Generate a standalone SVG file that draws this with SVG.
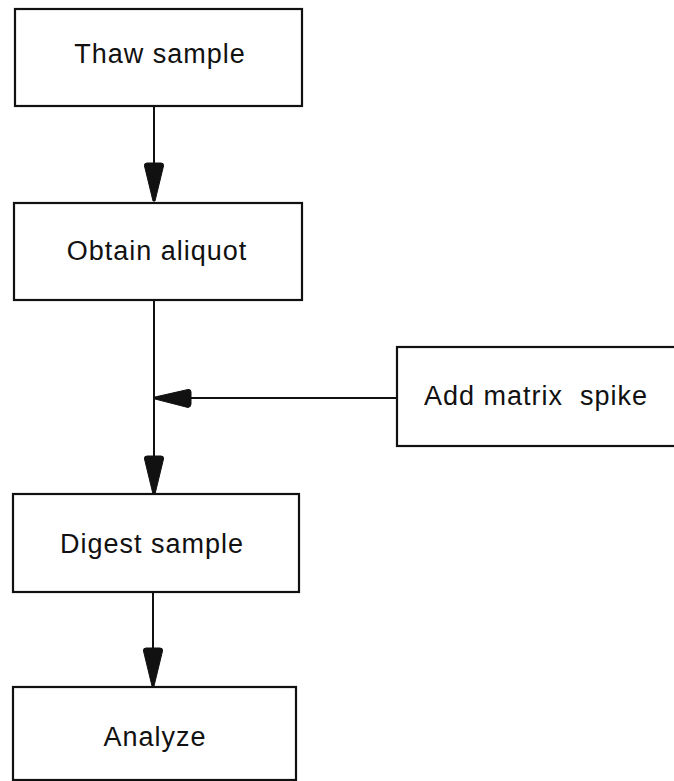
<svg xmlns="http://www.w3.org/2000/svg" width="674" height="781" viewBox="0 0 674 781">
  <defs>
    <style>
      .box { fill: #fff; stroke: #111; stroke-width: 2.2; }
      .lbl { font-family: "Liberation Sans", Arial, sans-serif; font-size: 27px; fill: #111; text-anchor: middle; letter-spacing: 1px; }
      .line { stroke: #111; stroke-width: 2; fill: none; }
      .head { fill: #111; stroke: #111; stroke-width: 1; stroke-linejoin: round; }
    </style>
  </defs>
  <rect width="674" height="781" fill="#fff"/>

  <g id="connectors">
    <line class="line" x1="154" y1="106" x2="154" y2="165"/>
    <path class="head" d="M144.5,166 Q144,163 147,163 L161,163 Q164,163 163.5,166 L155,201 L153,201 Z"/>

    <line class="line" x1="154" y1="300" x2="154" y2="458"/>
    <line class="line" x1="188" y1="398" x2="397" y2="398"/>
    <path class="head" d="M188,389.5 Q191,389 191,392 L191,404 Q191,407 188,407.5 L155,399 L155,397 Z"/>
    <path class="head" d="M144.5,459 Q144,456 147,456 L161,456 Q164,456 163.5,459 L155,494 L153,494 Z"/>

    <line class="line" x1="153" y1="592" x2="153" y2="650"/>
    <path class="head" d="M143.5,651 Q143,648 146,648 L160,648 Q163,648 162.5,651 L154,686 L152,686 Z"/>
  </g>

  <g id="thaw">
    <rect class="box" x="15" y="9" width="287" height="97"/>
    <text class="lbl" x="160" y="63">Thaw sample</text>
  </g>

  <g id="aliquot">
    <rect class="box" x="14" y="203" width="288" height="97"/>
    <text class="lbl" x="157" y="260">Obtain aliquot</text>
  </g>

  <g id="spike">
    <rect class="box" x="397" y="347" width="290" height="99"/>
    <text class="lbl" x="536" y="405" xml:space="preserve">Add matrix  spike</text>
  </g>

  <g id="digest">
    <rect class="box" x="13" y="494" width="286" height="98"/>
    <text class="lbl" x="152" y="553">Digest sample</text>
  </g>

  <g id="analyze">
    <rect class="box" x="13" y="687" width="283" height="93"/>
    <text class="lbl" x="155" y="746">Analyze</text>
  </g>
</svg>
